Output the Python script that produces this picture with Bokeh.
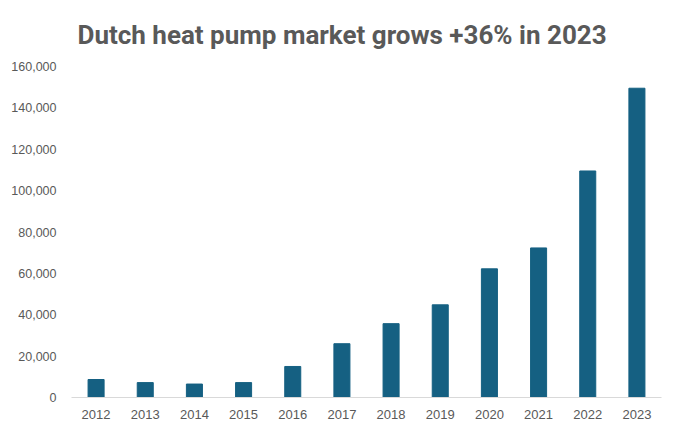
from bokeh.plotting import figure
from bokeh.models import Range1d, NumeralTickFormatter, FixedTicker, Title
from bokeh.embed import file_html
from bokeh.resources import INLINE

years = ["2012", "2013", "2014", "2015", "2016", "2017", "2018", "2019", "2020", "2021", "2022", "2023"]
sales = [8700, 7200, 6500, 7200, 15000, 26000, 35700, 44800, 62200, 72300, 109500, 149500]
y_ticks = [0, 20000, 40000, 60000, 80000, 100000, 120000, 140000, 160000]
title_text = "Dutch heat pump market grows +36% in 2023"

p = figure(x_range=years, width=664, height=421, output_backend="svg", toolbar_location=None,
           min_border_left=71, min_border_right=3, min_border_top=66, min_border_bottom=23)
p.y_range = Range1d(0, 160000)

p.vbar(x=years, top=sales, width=0.326, color="#156082")

title = Title(text=title_text, align="left", offset=6, vertical_align="bottom", standoff=34,
              text_font="Roboto", text_font_size="26px", text_font_style="bold",
              text_color="#595959")
p.add_layout(title, "above")

p.grid.visible = False
p.outline_line_color = None

p.yaxis.ticker = FixedTicker(ticks=y_ticks)
p.yaxis.formatter = NumeralTickFormatter(format="0,0")
p.yaxis.axis_line_color = None
p.yaxis.major_tick_line_color = None
p.yaxis.minor_tick_line_color = None
p.yaxis.major_label_text_font_size = "12.5px"
p.yaxis.major_label_text_color = "#595959"
p.yaxis.major_label_text_font = "Liberation Sans"
p.yaxis.major_label_standoff = 9

p.xaxis.axis_line_color = "#d9d9d9"
p.xaxis.axis_line_width = 1
p.xaxis.major_tick_line_color = None
p.xaxis.minor_tick_line_color = None
p.xaxis.major_label_text_font_size = "13px"
p.xaxis.major_label_text_color = "#595959"
p.xaxis.major_label_text_font = "Liberation Sans"
p.xaxis.major_label_standoff = 6

open("out.html", "w").write(file_html(p, INLINE))
